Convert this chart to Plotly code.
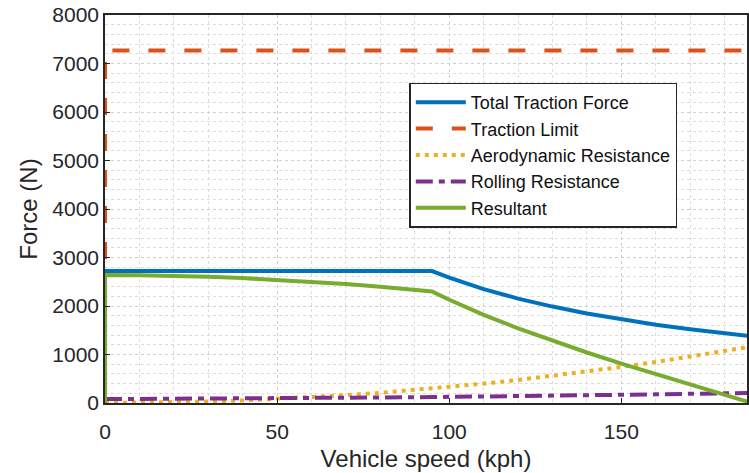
import plotly.graph_objects as go

# Vehicle speed samples (kph)
speed = [0, 10, 20, 30, 40, 50, 60, 70, 80, 90, 95, 100, 110, 120, 130, 140,
         150, 160, 170, 180, 187]

# Forces (N) at each speed
total_traction = [2720, 2720, 2720, 2720, 2720, 2720, 2720, 2720, 2720, 2720,
                  2720, 2584, 2349, 2153, 1988, 1846, 1723, 1615, 1520, 1436, 1382]
aero_resistance = [0, 3, 13, 30, 53, 83, 119, 162, 211, 267, 298, 330, 399, 475,
                   558, 647, 743, 845, 954, 1069, 1154]
rolling_resistance = [80, 82, 85, 88, 92, 96, 100, 105, 112, 119, 122, 125, 132,
                      140, 149, 158, 168, 178, 189, 200, 208]
resultant = [2640, 2635, 2622, 2602, 2575, 2541, 2501, 2453, 2397, 2334, 2300,
             2129, 1818, 1538, 1281, 1041, 812, 592, 377, 167, 20]

traction_limit_speed = [0, 0, 187]
traction_limit = [0, 7270, 7270]

C_BLUE = "#0072BD"
C_ORANGE = "#D95319"
C_YELLOW = "#EDB120"
C_PURPLE = "#7E2F8E"
C_GREEN = "#77AC30"
AX = "#262626"

fig = go.Figure()
fig.add_trace(go.Scatter(x=speed, y=total_traction, mode="lines",
                         name="Total Traction Force",
                         line=dict(color=C_BLUE, width=4)))
fig.add_trace(go.Scatter(x=traction_limit_speed, y=traction_limit, mode="lines",
                         name="Traction Limit",
                         line=dict(color=C_ORANGE, width=4, dash="17px,19px")))
fig.add_trace(go.Scatter(x=speed, y=aero_resistance, mode="lines",
                         name="Aerodynamic Resistance",
                         line=dict(color=C_YELLOW, width=4, dash="4px,5px")))
fig.add_trace(go.Scatter(x=speed, y=rolling_resistance, mode="lines",
                         name="Rolling Resistance",
                         line=dict(color=C_PURPLE, width=4, dash="17px,6px,6px,6px")))
fig.add_trace(go.Scatter(x=[0] + speed, y=[0] + resultant, mode="lines",
                         name="Resultant",
                         line=dict(color=C_GREEN, width=4)))

fig.update_layout(
    width=749, height=473,
    margin=dict(l=105, r=0, t=15, b=70),
    paper_bgcolor="white", plot_bgcolor="white",
    font=dict(family="Liberation Sans, Arial, sans-serif", color=AX),
    showlegend=True,
    legend=dict(x=0.474, y=0.826, xanchor="left", yanchor="top",
                bgcolor="white", bordercolor=AX, borderwidth=1.5,
                font=dict(size=18, color="#111111"),
                tracegroupgap=0, itemwidth=50),
)

fig.update_xaxes(
    range=[0, 186.5], tickvals=[0, 50, 100, 150],
    ticks="inside", ticklen=5, tickcolor=AX, ticklabelstandoff=9,
    tickfont=dict(size=21, color=AX),
    title=dict(text="Vehicle speed (kph)", font=dict(size=24, color=AX), standoff=8),
    showline=True, linecolor=AX, linewidth=1.5, mirror=True,
    showgrid=True, gridcolor="#cfcfcf", griddash="dot", gridwidth=1,
    minor=dict(dtick=10, showgrid=True, gridcolor="#dcdcdc", griddash="dot",
               gridwidth=1),
    zeroline=False,
)
fig.update_yaxes(
    range=[0, 8000], dtick=1000,
    ticks="inside", ticklen=5, tickcolor=AX,
    tickfont=dict(size=21, color=AX),
    title=dict(text="Force (N)", font=dict(size=24, color=AX), standoff=8),
    showline=True, linecolor=AX, linewidth=1.5, mirror=True,
    showgrid=True, gridcolor="#cfcfcf", griddash="dot", gridwidth=1,
    minor=dict(dtick=200, showgrid=True, gridcolor="#dcdcdc", griddash="dot",
               gridwidth=1),
    zeroline=False,
)

fig.write_html("out.html")
